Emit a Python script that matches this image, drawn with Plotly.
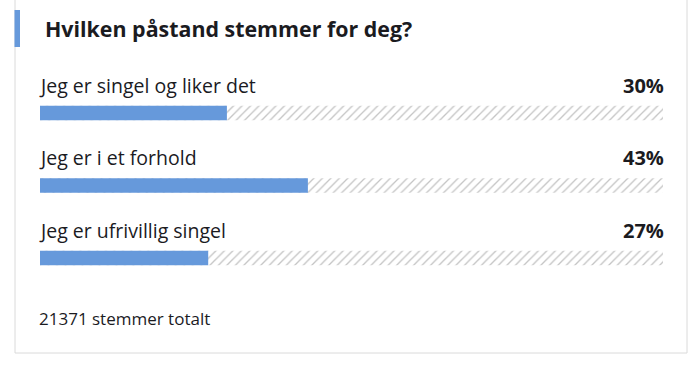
import plotly.graph_objects as go

title = "Hvilken påstand stemmer for deg?"
options = ["Jeg er singel og liker det", "Jeg er i et forhold", "Jeg er ufrivillig singel"]
percents = [30, 43, 27]
total_votes = 21371

W, H = 699, 365
BLUE = "#6699DB"
TEXT = "#1b1b1f"
FONT = "Open Sans"

# pixel layout of the track: x 40..663 maps to 0..100
px_per_unit = 623 / 100
x_lo = -40 / px_per_unit
x_hi = 100 + (W - 663) / px_per_unit
# rows: bar centres at 113 and step 72.5 px
step = 72.5
y_top = -113 / step
y_bot = y_top + H / step
idx = list(range(len(options)))

fig = go.Figure()
fig.add_trace(go.Bar(
    x=[100] * len(options), y=idx, orientation="h", width=0.2,
    marker=dict(color="white", line=dict(width=0),
                pattern=dict(shape="/", fgcolor="#8a8a8a", bgcolor="white",
                             size=6, solidity=0.22)),
    hoverinfo="skip", showlegend=False))
fig.add_trace(go.Bar(
    x=percents, y=idx, orientation="h", width=0.2,
    marker=dict(color=BLUE, line=dict(width=0)),
    showlegend=False))

for i, (lab, p) in enumerate(zip(options, percents)):
    fig.add_annotation(x=0, y=i, xref="x", yref="y", text=lab, showarrow=False,
                       xanchor="left", yanchor="middle", yshift=28, xshift=-3,
                       font=dict(family=FONT, size=19.5, color=TEXT))
    fig.add_annotation(x=100, y=i, xref="x", yref="y", text=f"<b>{p}%</b>", showarrow=False,
                       xanchor="right", yanchor="middle", yshift=28, xshift=3,
                       font=dict(family=FONT, size=20, color=TEXT))

fig.add_annotation(x=46 / W, y=1 - 29 / H, xref="paper", yref="paper",
                   text=f"<b>{title}</b>", showarrow=False, xanchor="left", yanchor="middle",
                   xshift=-3, yshift=1,
                   font=dict(family=FONT, size=21.4, color=TEXT))
fig.add_annotation(x=40 / W, y=1 - 318 / H, xref="paper", yref="paper",
                   text=f"{total_votes} stemmer totalt", showarrow=False,
                   xanchor="left", yanchor="middle", xshift=-3,
                   font=dict(family=FONT, size=17, color=TEXT))

# card border
fig.add_shape(type="rect", xref="paper", yref="paper",
              x0=15 / W, x1=687 / W, y0=1 - 353 / H, y1=1.05,
              line=dict(color="#dadada", width=1), fillcolor="rgba(0,0,0,0)", layer="below")
# accent bar
fig.add_shape(type="rect", xref="paper", yref="paper",
              x0=14.5 / W, x1=20 / W, y0=1 - 47 / H, y1=1 - 10 / H,
              line=dict(width=0), fillcolor=BLUE)

fig.update_layout(
    width=W, height=H, margin=dict(l=0, r=0, t=0, b=0),
    paper_bgcolor="white", plot_bgcolor="white", barmode="overlay",
    xaxis=dict(range=[x_lo, x_hi], visible=False, fixedrange=True),
    yaxis=dict(range=[y_bot, y_top], visible=False, fixedrange=True),
)
fig.write_html("out.html", config={"displayModeBar": False},
               post_script="document.body.style.margin='0';document.body.style.overflow='hidden';")
